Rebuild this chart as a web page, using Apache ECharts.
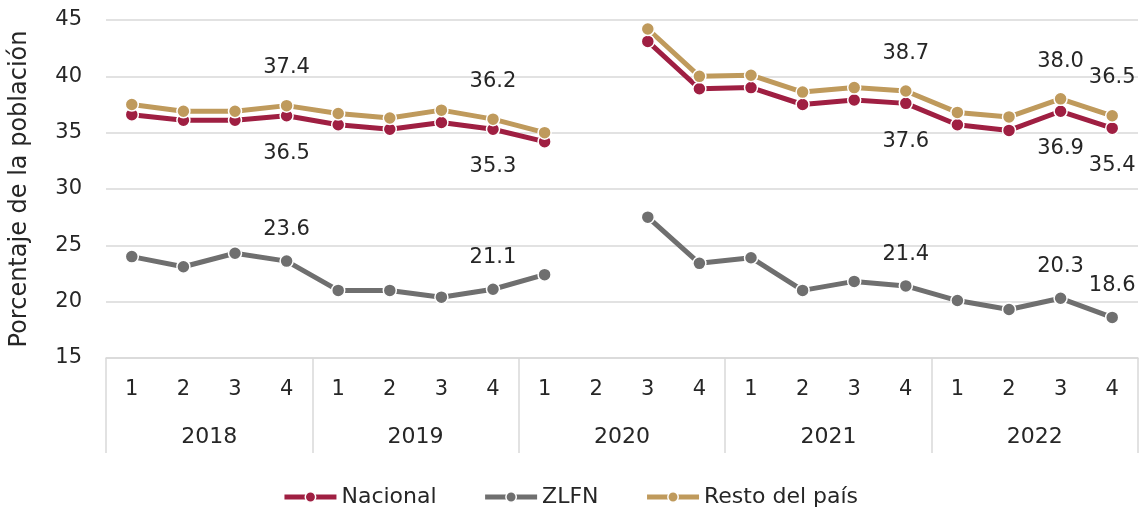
<!DOCTYPE html>
<html>
<head>
<meta charset="utf-8">
<style>
  html, body { margin: 0; padding: 0; background: #fff; }
  #chart { width: 1140px; height: 508px; }
</style>
</head>
<body>
<div id="chart"></div>
<script src="https://cdn.jsdelivr.net/npm/echarts@6/dist/echarts.min.js"></script>
<script>
    // trimestres y años
    var quarters = ['1', '2', '3', '4', '1', '2', '3', '4', '1', '2', '3', '4', '1', '2', '3', '4', '1', '2', '3', '4'];
    var years = ['2018', '2019', '2020', '2021', '2022'];

    // porcentaje de la población (2020 T2 sin dato)
    var nacional = [36.6, 36.1, 36.1, 36.5, 35.7, 35.3, 35.9, 35.3, 34.2, null, 43.1, 38.9, 39.0, 37.5, 37.9, 37.6, 35.7, 35.2, 36.9, 35.4];
    var zlfn = [24.0, 23.1, 24.3, 23.6, 21.0, 21.0, 20.4, 21.1, 22.4, null, 27.5, 23.4, 23.9, 21.0, 21.8, 21.4, 20.1, 19.3, 20.3, 18.6];
    var resto = [37.5, 36.9, 36.9, 37.4, 36.7, 36.3, 37.0, 36.2, 35.0, null, 44.2, 40.0, 40.1, 38.6, 39.0, 38.7, 36.8, 36.4, 38.0, 36.5];

    // puntos con etiqueta
    var labelIdx = [3, 7, 15, 18, 19];

    var font = 'DejaVu Sans';
    var textColor = '#262626';
    var gridColor = '#d9d9d9';

    function buildData(vals, pos, dist) {
        return vals.map(function (v, i) {
            if (v === null) return '-';
            if (labelIdx.indexOf(i) < 0) return v;
            return {
                value: v,
                label: {
                    show: true,
                    position: pos,
                    distance: dist,
                    formatter: function (p) { return p.value.toFixed(1); },
                    color: textColor,
                    fontFamily: font,
                    fontSize: 21
                }
            };
        });
    }

    function lineSeries(name, color, vals, pos, dist) {
        return {
            name: name,
            type: 'line',
            xAxisIndex: 0,
            data: buildData(vals, pos, dist),
            symbol: 'circle',
            symbolSize: 13,
            connectNulls: false,
            lineStyle: { color: color, width: 5 },
            itemStyle: { color: color, borderColor: '#fff', borderWidth: 1.5 },
            emphasis: { disabled: true }
        };
    }

    var myChart = echarts.init(document.getElementById('chart'));
    var option = {
        animation: false,
        textStyle: { fontFamily: font },
        legend: {
            top: 481,
            left: 'center',
            itemWidth: 52,
            itemHeight: 13,
            itemGap: 46,
            lineStyle: { width: 5 },
            itemStyle: { borderColor: '#fff', borderWidth: 1.5 },
            textStyle: { color: textColor, fontSize: 22, fontFamily: font },
            data: ['Nacional', 'ZLFN', 'Resto del país']
        },
        grid: {
            left: 101,
            right: 2,
            top: 20,
            bottom: 150
        },
        xAxis: [
            {
                type: 'category',
                data: quarters,
                boundaryGap: true,
                axisLine: { show: true, lineStyle: { color: gridColor, width: 1.5 } },
                axisTick: { show: false },
                axisLabel: { margin: 21, color: textColor, fontSize: 21, fontFamily: font, interval: 0 },
                splitLine: { show: false }
            },
            {
                type: 'category',
                data: years,
                position: 'bottom',
                boundaryGap: true,
                axisLine: { show: false },
                axisTick: { show: true, length: 95, lineStyle: { color: gridColor, width: 1.5 } },
                axisLabel: { margin: 68, color: textColor, fontSize: 22, fontFamily: font, interval: 0 },
                splitLine: { show: false }
            }
        ],
        yAxis: [
            {
                type: 'value',
                min: 15,
                max: 45,
                interval: 5,
                name: 'Porcentaje de la población',
                nameLocation: 'middle',
                nameGap: 74,
                nameTextStyle: { color: textColor, fontSize: 24, fontFamily: font },
                axisLine: { show: false },
                axisTick: { show: false },
                axisLabel: { margin: 24, color: textColor, fontSize: 21, fontFamily: font },
                splitLine: { lineStyle: { color: gridColor, width: 1.5 } }
            }
        ],
        series: [
            lineSeries('Nacional', '#9f1f42', nacional, 'bottom', 20),
            lineSeries('ZLFN', '#6f6f6f', zlfn, 'top', 14),
            lineSeries('Resto del país', '#bf9a5c', resto, 'top', 20)
        ]
    };
    myChart.setOption(option);
</script>
</body>
</html>
